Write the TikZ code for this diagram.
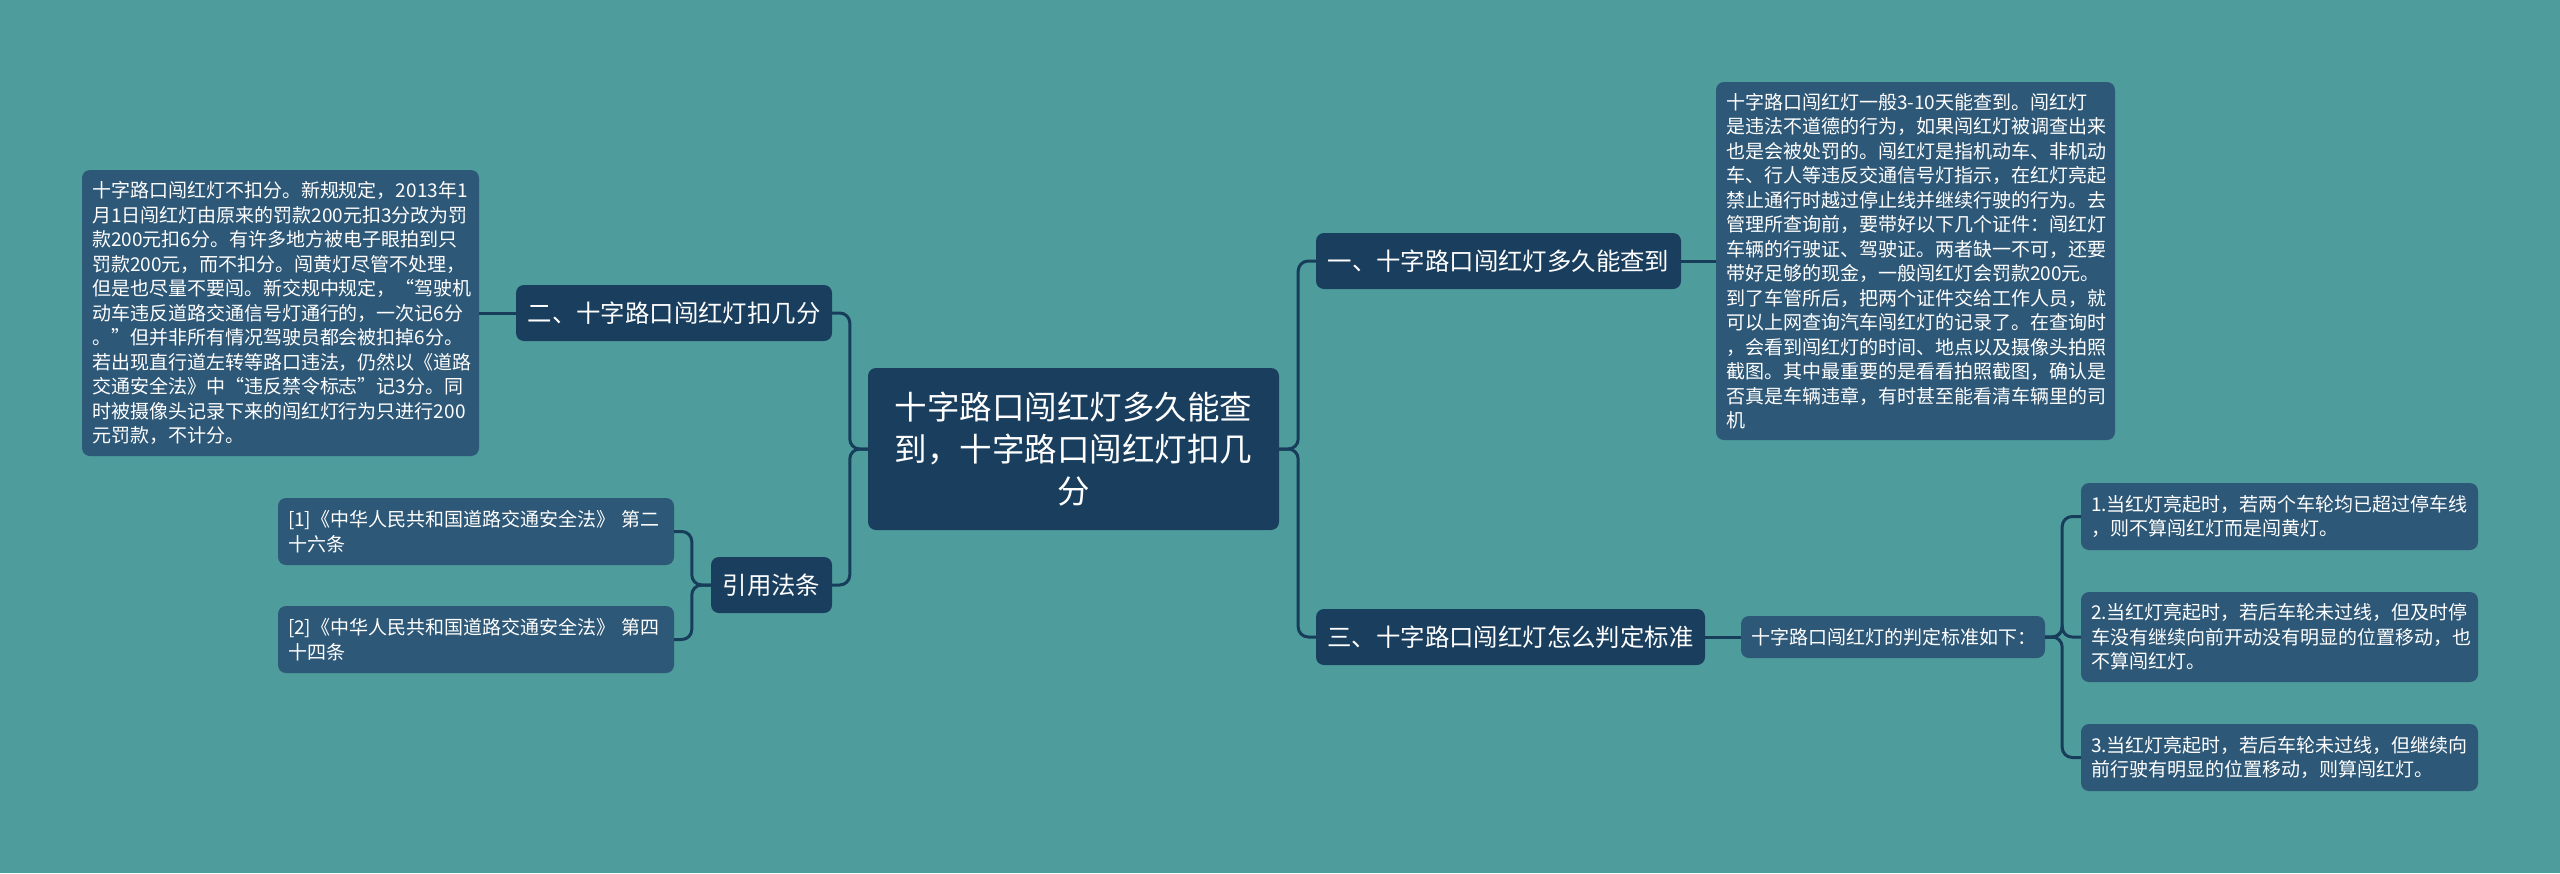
\documentclass[tikz,border=0pt]{standalone}
\usepackage{fontspec}
\setmainfont{Noto Sans CJK SC}
\definecolor{bg}{HTML}{4E9C9C}
\definecolor{darkbox}{HTML}{1A3E5E}
\definecolor{leafbox}{HTML}{2E5877}
\definecolor{linec}{HTML}{173D5B}
\tikzset{
  rootbox/.style={fill=darkbox, rounded corners=8pt, text=white, align=center, inner sep=0pt,
    font=\fontsize{32.5}{41.7}\selectfont},
  mainbox/.style={fill=darkbox, rounded corners=8pt, text=white, align=center, inner sep=0pt,
    font=\fontsize{24.4}{30}\selectfont},
  leafbox/.style={fill=leafbox, rounded corners=8pt, text=white, align=left, inner xsep=10pt, inner ysep=0pt,
    font=\fontsize{19}{24.5}\selectfont},
  conn/.style={draw=linec, line width=3pt, rounded corners=10pt},
}
\begin{document}
\begin{tikzpicture}[x=1pt,y=-1pt]
\fill[bg] (0,0) rectangle (2560,873);
\useasboundingbox (0,0) rectangle (2560,873);

\node[rootbox, minimum width=411pt, minimum height=162pt] (root) at (1073.5,449)
  {十字路口闯红灯多久能查\\到，十字路口闯红灯扣几\\分};

\node[mainbox, minimum width=365pt, minimum height=56pt] (n1) at (1498.5,261) {一、十字路口闯红灯多久能查到};
\node[mainbox, minimum width=316pt, minimum height=56pt] (n2) at (674,313) {二、十字路口闯红灯扣几分};
\node[mainbox, minimum width=389pt, minimum height=56pt] (n3) at (1510.5,637) {三、十字路口闯红灯怎么判定标准};
\node[mainbox, minimum width=121pt, minimum height=56pt] (n4) at (771.5,585) {引用法条};

\node[leafbox, text width=379pt, minimum height=358pt] (lr) at (1915.5,261)
  {十字路口闯红灯一般3-10天能查到。闯红灯\\
   是违法不道德的行为，如果闯红灯被调查出来\\
   也是会被处罚的。闯红灯是指机动车、非机动\\
   车、行人等违反交通信号灯指示，在红灯亮起\\
   禁止通行时越过停止线并继续行驶的行为。去\\
   管理所查询前，要带好以下几个证件：闯红灯\\
   车辆的行驶证、驾驶证。两者缺一不可，还要\\
   带好足够的现金，一般闯红灯会罚款200元。\\
   到了车管所后，把两个证件交给工作人员，就\\
   可以上网查询汽车闯红灯的记录了。在查询时\\
   ，会看到闯红灯的时间、地点以及摄像头拍照\\
   截图。其中最重要的是看看拍照截图，确认是\\
   否真是车辆违章，有时甚至能看清车辆里的司\\
   机};

\node[leafbox, text width=377pt, minimum height=286pt] (ll) at (280.5,313)
  {十字路口闯红灯不扣分。新规规定，2013年1\\
   月1日闯红灯由原来的罚款200元扣3分改为罚\\
   款200元扣6分。有许多地方被电子眼拍到只\\
   罚款200元，而不扣分。闯黄灯尽管不处理，\\
   但是也尽量不要闯。新交规中规定，“驾驶机\\
   动车违反道路交通信号灯通行的，一次记6分\\
   。”但并非所有情况驾驶员都会被扣掉6分。\\
   若出现直行道左转等路口违法，仍然以《道路\\
   交通安全法》中“违反禁令标志”记3分。同\\
   时被摄像头记录下来的闯红灯行为只进行200\\
   元罚款，不计分。};

\node[leafbox, text width=376pt, minimum height=67pt] (c1) at (476,531.5)
  {[1]《中华人民共和国道路交通安全法》 第二\\十六条};
\node[leafbox, text width=376pt, minimum height=67pt] (c2) at (476,639.5)
  {[2]《中华人民共和国道路交通安全法》 第四\\十四条};

\node[leafbox, text width=284pt, minimum height=42pt] (jd) at (1893,637) {十字路口闯红灯的判定标准如下：};

\node[leafbox, text width=377pt, minimum height=67pt] (r1) at (2279.5,516.5)
  {1.当红灯亮起时，若两个车轮均已超过停车线\\，则不算闯红灯而是闯黄灯。};
\node[leafbox, text width=377pt, minimum height=90pt] (r2) at (2279.5,637)
  {2.当红灯亮起时，若后车轮未过线，但及时停\\车没有继续向前开动没有明显的位置移动，也\\不算闯红灯。};
\node[leafbox, text width=377pt, minimum height=67pt] (r3) at (2279.5,757.5)
  {3.当红灯亮起时，若后车轮未过线，但继续向\\前行驶有明显的位置移动，则算闯红灯。};

% connectors
\draw[conn] (root.east) -- ++(19,0) |- (n1.west);
\draw[conn] (root.east) -- ++(19,0) |- (n3.west);
\draw[conn] (root.west) -- ++(-18,0) |- (n2.east);
\draw[conn] (root.west) -- ++(-18,0) |- (n4.east);
\draw[conn] (n1.east) -- (lr.west);
\draw[conn] (n2.west) -- (ll.east);
\draw[conn] (n4.west) -- ++(-19,0) |- (c1.east);
\draw[conn] (n4.west) -- ++(-19,0) |- (c2.east);
\draw[conn] (n3.east) -- (jd.west);
\draw[conn] (jd.east) -- ++(17,0) |- (r1.west);
\draw[conn] (jd.east) -- ++(17,0) |- (r2.west);
\draw[conn] (jd.east) -- ++(17,0) |- (r3.west);
\end{tikzpicture}
\end{document}
